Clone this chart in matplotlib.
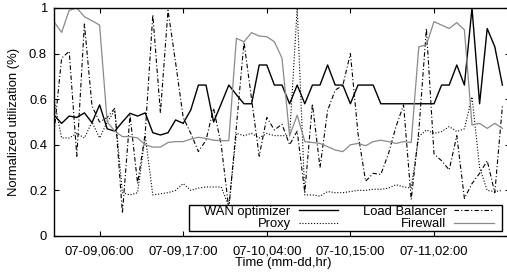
import matplotlib
matplotlib.use("Agg")
import matplotlib.pyplot as plt
from matplotlib.patches import Rectangle

plt.rcParams['font.family'] = ['Liberation Sans', 'DejaVu Sans']

# hours since 07-09,00:00
hours = list(range(60))
tick_hours = [6, 17, 28, 39, 50]
tick_labels = ["07-09,06:00", "07-09,17:00", "07-10,04:00", "07-10,15:00", "07-11,02:00"]
y_ticks = [0, 0.2, 0.4, 0.6, 0.8, 1]
y_tick_labels = ["0", "0.2", "0.4", "0.6", "0.8", "1"]

wan = [0.53, 0.494, 0.526, 0.52, 0.54, 0.497, 0.575, 0.47, 0.46, 0.50,
       0.538, 0.526, 0.54, 0.453, 0.443, 0.453, 0.509, 0.494, 0.553, 0.662,
       0.662, 0.50, 0.58, 0.662, 0.62, 0.58, 0.58, 0.75, 0.75, 0.662,
       0.662, 0.58, 0.662, 0.58, 0.662, 0.662, 0.75, 0.662, 0.662, 0.58,
       0.662, 0.662, 0.662, 0.58, 0.58, 0.58, 0.58, 0.58, 0.58, 0.58,
       0.58, 0.662, 0.662, 0.75, 0.662, 1.0, 0.58, 0.91, 0.83, 0.662]

proxy = [0.60, 0.43, 0.43, 0.45, 0.43, 0.50, 0.43, 0.50, 0.55, 0.19,
         0.18, 0.19, 0.44, 0.18, 0.185, 0.19, 0.20, 0.23, 0.20, 0.21,
         0.215, 0.215, 0.215, 0.13, 0.45, 0.44, 0.45, 0.43, 0.45, 0.44,
         0.44, 0.44, 1.0, 0.18, 0.18, 0.175, 0.195, 0.19, 0.19, 0.195,
         0.20, 0.20, 0.205, 0.205, 0.21, 0.225, 0.215, 0.21, 0.436, 0.465,
         0.45, 0.458, 0.48, 0.458, 0.47, 0.61, 0.30, 0.20, 0.195, 0.20]

load_balancer = [0.45, 0.78, 0.81, 0.35, 0.93, 0.57, 0.50, 0.52, 0.56, 0.10,
                 0.53, 0.23, 0.45, 0.97, 0.54, 0.99, 0.76, 0.52, 0.45, 0.37,
                 0.42, 0.56, 0.40, 0.12, 0.48, 0.85, 0.60, 0.35, 0.52, 0.465,
                 0.49, 0.40, 0.46, 0.19, 0.58, 0.30, 0.55, 0.64, 0.66, 0.80,
                 0.45, 0.24, 0.275, 0.27, 0.36, 0.48, 0.575, 0.16, 0.46, 0.91,
                 0.36, 0.33, 0.29, 0.44, 0.165, 0.23, 0.275, 0.33, 0.19, 0.57]

firewall = [0.94, 0.893, 0.99, 1.0, 0.962, 0.944, 0.925, 0.50, 0.46, 0.436,
            0.436, 0.43, 0.40, 0.39, 0.39, 0.41, 0.414, 0.414, 0.425, 0.433,
            0.428, 0.42, 0.418, 0.418, 0.867, 0.852, 0.892, 0.877, 0.874, 0.852,
            0.78, 0.44, 0.53, 0.414, 0.41, 0.406, 0.392, 0.377, 0.37, 0.40,
            0.406, 0.396, 0.414, 0.42, 0.414, 0.406, 0.414, 0.41, 0.83, 0.838,
            0.94, 0.925, 0.91, 0.936, 0.904, 0.487, 0.494, 0.472, 0.494, 0.472]

W, H = 507, 274
fig = plt.figure(figsize=(W / 100, H / 100), dpi=100)
ax = fig.add_axes([54 / W, (H - 236) / H, 456 / W, 228 / H])

fs = 9.4
l1, = ax.plot(hours, wan, color='black', lw=1.0, label='WAN optimizer')
l2, = ax.plot(hours, proxy, color='black', lw=0.8, linestyle=(0, (1, 1.6)), label='Proxy')
l3, = ax.plot(hours, load_balancer, color='black', lw=0.8, linestyle=(0, (4, 2, 1, 2)), label='Load Balancer')
l4, = ax.plot(hours, firewall, color='#8a8a8a', lw=0.9, label='Firewall')

ax.set_xlim(0, 60)
ax.set_ylim(0, 1)
ax.set_xticks(tick_hours)
ax.set_xticklabels(tick_labels, fontsize=fs)
ax.set_yticks(y_ticks)
ax.set_yticklabels(y_tick_labels, fontsize=fs)
ax.tick_params(direction='in', length=3.6, width=0.8, top=True, right=True, pad=5)
ax.tick_params(axis='x', pad=7)
for s in ax.spines.values():
    s.set_linewidth(1.0)

ax.set_xlabel('Time (mm-dd,hr)', fontsize=fs)
ax.set_ylabel('Normalized utilization (%)', fontsize=fs)
ax.xaxis.set_label_coords(0.502, -0.092)
ax.yaxis.set_label_coords(-0.075, 0.5)

# opaque key box
rect = Rectangle((189 / W, 1 - 231 / H), 313 / W, 26 / H, transform=fig.transFigure,
                 facecolor='white', edgecolor='black', lw=1.0, zorder=4, clip_on=False)
ax.add_patch(rect)
leg = ax.legend(handles=[l1, l2, l3, l4], ncol=2, markerfirst=False, frameon=False,
                fontsize=fs, handlelength=3.0, handletextpad=0.6, columnspacing=1.9,
                labelspacing=0.0, borderpad=0.0, loc='center',
                bbox_to_anchor=(349 / W, 1 - 218 / H), bbox_transform=fig.transFigure)
leg.set_zorder(5)

fig.savefig('out.png', dpi=100)
